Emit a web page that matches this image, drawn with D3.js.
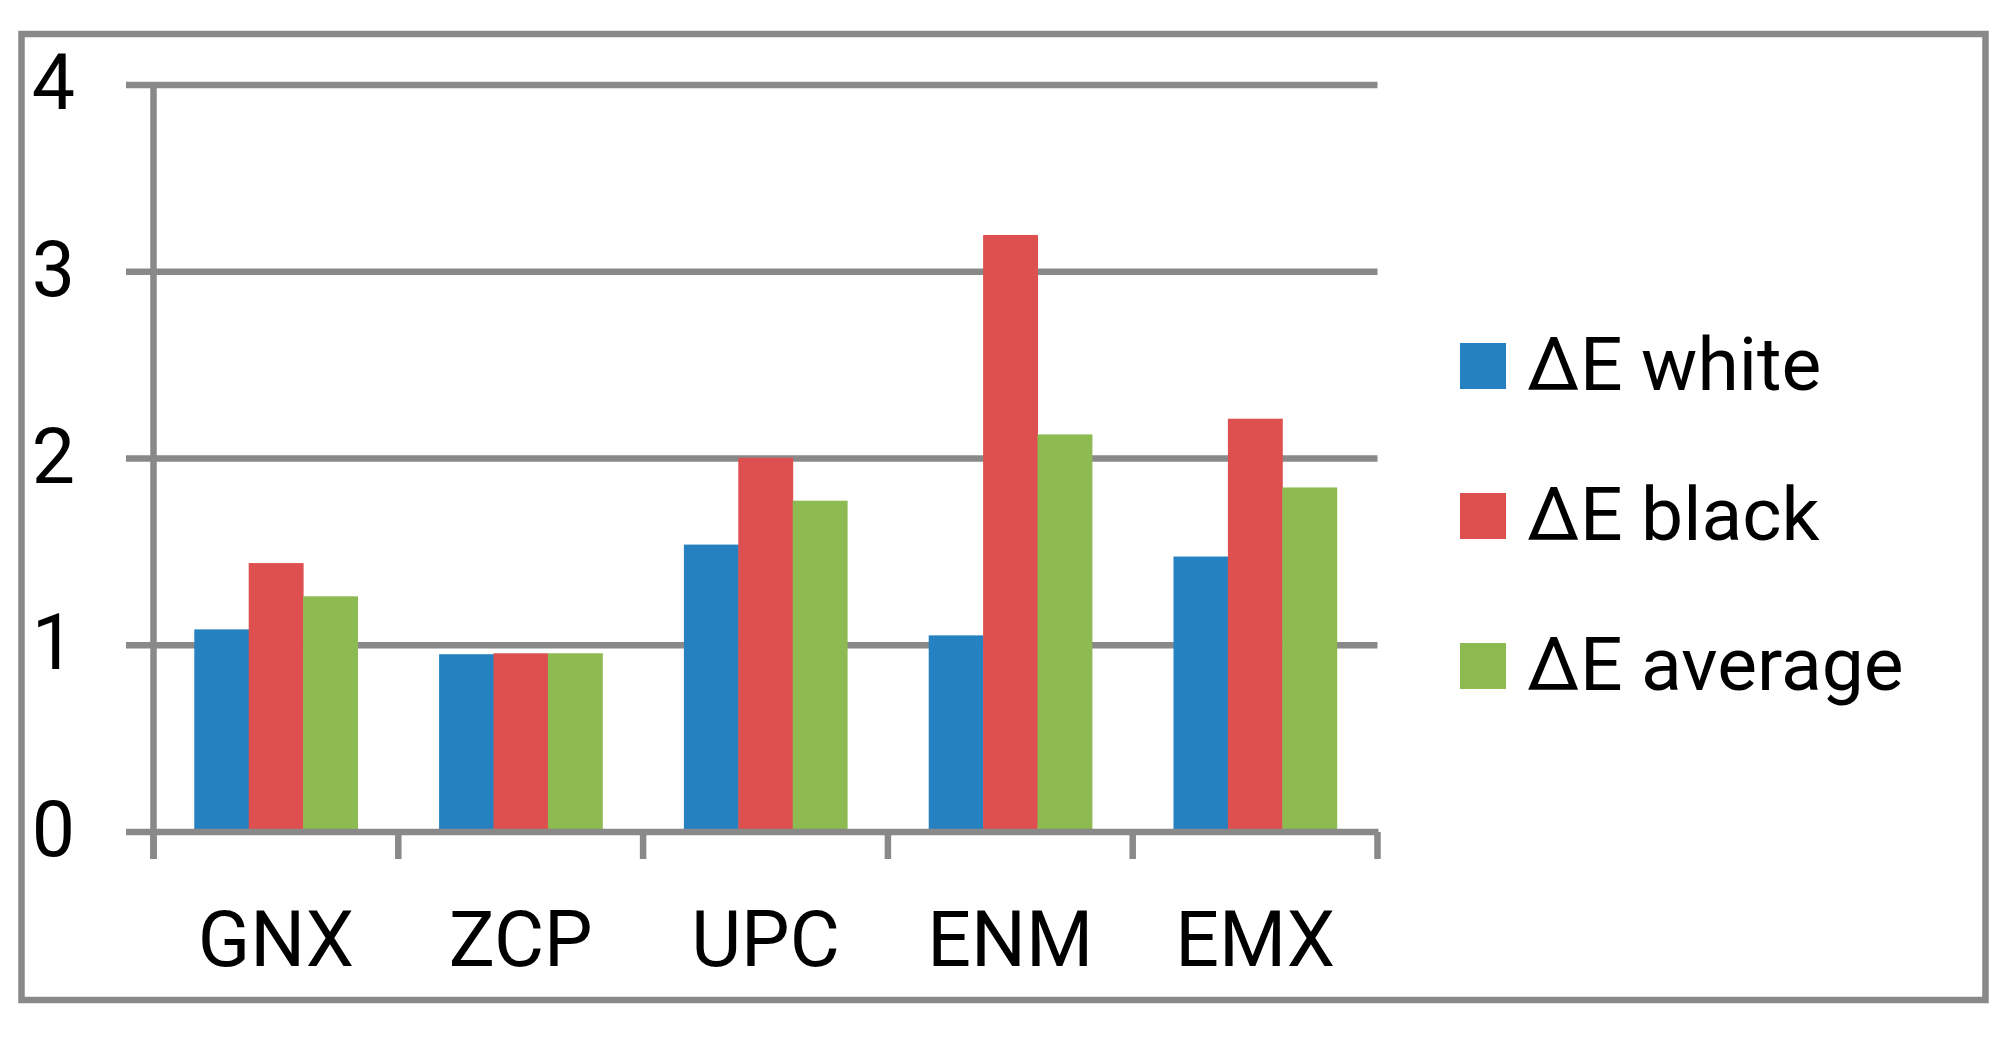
<!DOCTYPE html>
<html><head><meta charset="utf-8">
<script src="https://cdn.jsdelivr.net/npm/d3@7/dist/d3.min.js"></script>
<style>html,body{margin:0;padding:0;background:#fff;}svg{display:block;}</style>
</head><body>
<script>
const categories = ["GNX", "ZCP", "UPC", "ENM", "EMX"];
const seriesNames = ["ΔE white", "ΔE black", "ΔE average"];
const whiteVals = [1.085, 0.952, 1.539, 1.053, 1.475];
const blackVals = [1.44, 0.957, 2.004, 3.197, 2.213];
const averageVals = [1.262, 0.957, 1.774, 2.129, 1.845];
const yTicks = [0, 1, 2, 3, 4];
const colors = ["#2581C0", "#DD504F", "#8DBB51"];

(function () {
const W = 2016, H = 1039;
const gray = "#898989";
const font = "Roboto, Lato, sans-serif";
const svg = d3.select("body").append("svg").attr("width", W).attr("height", H);

// outer frame
svg.append("rect").attr("x", 21.5).attr("y", 34).attr("width", 1964).attr("height", 966)
  .attr("fill", "none").attr("stroke", gray).attr("stroke-width", 6.5);

const pLeft = 153.5, pRight = 1377.5, pTop = 85, pBottom = 832;
const x = d3.scaleBand().domain(categories).range([pLeft, pRight]).padding(0);
const y = d3.scaleLinear().domain([0, 4]).range([pBottom, pTop]);

// bars
const series = [whiteVals, blackVals, averageVals];
const bw = x.bandwidth() / 4.5;
const g = svg.append("g");
series.forEach((vals, si) => {
  g.selectAll(null).data(categories).join("rect")
    .attr("x", (c) => x(c) + bw * 0.75 + si * bw)
    .attr("width", bw + 0.5)
    .attr("y", (c, i) => y(vals[i]))
    .attr("height", (c, i) => y(0) - y(vals[i]))
    .attr("fill", colors[si]);
});

// gridlines (drawn behind bars except where visible)
const grid = svg.insert("g", ":first-child");
grid.selectAll("line").data(yTicks.filter(d => d > 0)).join("line")
  .attr("x1", 126).attr("x2", pRight).attr("y1", d => y(d)).attr("y2", d => y(d))
  .attr("stroke", gray).attr("stroke-width", 6.5);

// x axis line
svg.append("line").attr("x1", 126).attr("x2", pRight + 1).attr("y1", y(0)).attr("y2", y(0))
  .attr("stroke", gray).attr("stroke-width", 6.5);

// y axis line
svg.append("line").attr("x1", pLeft).attr("x2", pLeft).attr("y1", pTop).attr("y2", 859)
  .attr("stroke", gray).attr("stroke-width", 6.5);

// x ticks
const tickXs = categories.map(c => x(c)).concat([pRight]);
svg.append("g").selectAll("line").data(tickXs).join("line")
  .attr("x1", d => d).attr("x2", d => d).attr("y1", pBottom).attr("y2", 859)
  .attr("stroke", gray).attr("stroke-width", 6.5);

// y labels
svg.append("g").selectAll("text").data(yTicks).join("text")
  .attr("x", 75).attr("y", d => y(d) + 24)
  .attr("text-anchor", "end").attr("font-family", font).attr("font-size", 77)
  .text(d => d);

// x labels
svg.append("g").selectAll("text").data(categories).join("text")
  .attr("x", c => x(c) + x.bandwidth() / 2).attr("y", 966)
  .attr("text-anchor", "middle").attr("font-family", font).attr("font-size", 77)
  .text(c => c);

// legend
const lg = svg.append("g");
seriesNames.forEach((n, i) => {
  const base = 390 + i * 150;
  lg.append("rect").attr("x", 1460).attr("y", base - 47).attr("width", 46).attr("height", 46).attr("fill", colors[i]);
  lg.append("text").attr("x", 1527).attr("y", base)
    .attr("font-family", font).attr("font-size", 75).text(n);
});
})();
</script>
</body></html>
